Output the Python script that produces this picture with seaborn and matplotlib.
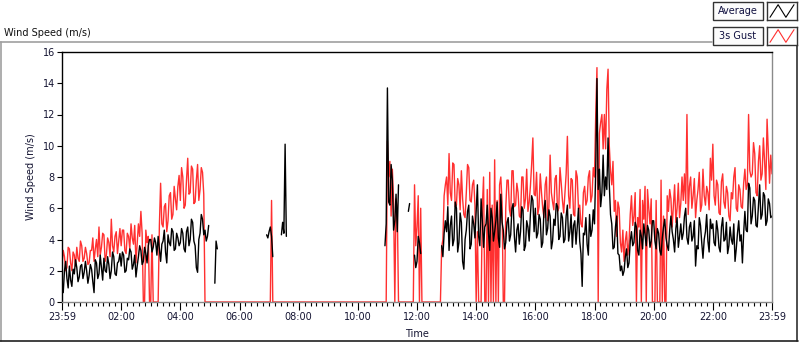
import numpy as np
import pandas as pd
import matplotlib
matplotlib.use("Agg")
import matplotlib.pyplot as plt
from matplotlib.lines import Line2D
from matplotlib.patches import Rectangle
import seaborn as sns

nan = np.nan

# 2.5-minute samples, one row per hour (23:59 -> 23:59)
average = (
    [1.2, 0.6, 2.0, 2.6, 1.5, 0.9, 2.3, 1.4, 1.0, 2.1, 1.8, 2.7, 2.2, 1.3, 1.6, 2.3, 2.4, 1.5, 1.9, 2.6, 2.0, 1.2, 1.7, 2.4]
    + [2.1, 1.3, 0.6, 2.7, 2.5, 1.5, 1.8, 3.0, 2.2, 1.4, 2.8, 2.0, 1.9, 2.9, 2.4, 1.5, 2.0, 3.2, 2.9, 1.8, 1.7, 2.5, 2.6, 3.1]
    + [2.3, 3.2, 3.0, 1.9, 2.0, 2.8, 2.7, 3.4, 3.2, 2.1, 2.4, 3.0, 1.6, 2.3, 2.9, 3.6, 3.3, 2.4, 2.6, 3.5, 3.1, 2.5, 3.6, 4.0]
    + [4.0, 3.2, 3.5, 4.1, 3.8, 3.0, 4.2, 3.4, 2.6, 3.7, 3.9, 4.6, 3.2, 2.5, 4.3, 3.8, 3.6, 4.7, 4.5, 3.3, 3.4, 4.4, 4.1, 3.6]
    + [3.8, 4.7, 4.4, 3.4, 3.2, 4.5, 4.8, 3.6, 4.0, 5.3, 5.1, 3.9, 3.6, 2.2, 1.9, 4.0, 4.4, 5.6, 5.3, 4.3, 4.6, 3.9, 4.2, 4.9]
    + [nan, nan, nan, nan, 1.2, 3.9, 3.4] + [nan] * 17
    + [nan] * 22 + [4.3, 4.1]
    + [4.5, 4.8, 4.2, 2.9, nan, nan, nan, nan, nan, nan, 4.3, 5.1, 4.4, 10.1, 4.2] + [nan] * 9
    + [nan] * 24
    + [nan] * 24
    + [nan] * 22 + [3.6, 5.0]
    + [13.7, 6.4, 6.2, 8.8, 7.8, 4.6, 5.2, 6.9, 4.5, 7.5] + [nan] * 7 + [5.8, 6.3, nan, nan, nan, 3.0, 2.2]
    + [2.6, 4.2, 3.8, 3.1] + [nan] * 16 + [3.6, 2.9, 4.4, 5.2]
    + [4.5, 6.1, 3.3, 4.9, 5.5, 3.6, 4.0, 6.4, 6.0, 3.2, 3.8, 5.7, 5.1, 2.6, 2.1, 4.0, 4.6, 5.8, 6.2, 3.4, 3.7, 5.5, 5.0, 4.1]
    + [5.8, 7.5, 4.2, 3.6, 6.6, 5.2, 3.5, 4.8, 5.0, 6.2, 4.4, 3.3, 6.0, 5.4, 3.9, 4.5, 5.2, 6.4, 4.1, 3.5, 6.9, 5.1, 4.6, 3.4]
    + [3.8, 5.1, 5.4, 3.9, 4.3, 6.0, 6.3, 4.2, 3.2, 4.6, 5.0, 3.7, 4.5, 6.1, 5.9, 3.3, 3.6, 5.2, 4.8, 3.9, 5.6, 6.8, 6.5, 4.5]
    + [6.0, 4.1, 4.4, 5.6, 5.3, 3.5, 3.8, 5.9, 6.5, 4.3, 4.7, 5.9, 5.5, 3.4, 3.9, 5.3, 4.9, 6.3, 6.1, 4.0, 4.2, 5.7, 5.4, 3.8]
    + [4.0, 5.5, 6.2, 3.9, 4.5, 5.6, 3.5, 4.9, 5.2, 3.7, 4.8, 6.0, 3.9, 3.1, 1.0, 4.4, 4.3, 5.4, 3.7, 3.0, 5.6, 4.2, 4.6, 5.9]
    + [5.0, 8.5, 14.3, 7.2, 8.5, 6.1, 7.0, 9.4, 6.8, 8.0, 7.2, 10.5, 7.5, 5.6, 5.0, 3.4, 3.5, 4.8, 5.5, 3.1, 3.0, 2.0, 2.3, 1.7]
    + [2.0, 2.9, 3.4, 2.2, 2.5, 3.9, 4.5, 3.6, 3.8, 5.1, 4.8, 3.3, 3.0, 4.6, 4.2, 3.4, 5.0, 4.3, 3.6, 4.9, 4.6, 3.5, 3.9, 5.2]
    + [5.2, 3.9, 3.4, 4.7, 4.4, 3.3, 3.0, 4.1, 4.8, 5.3, 4.1, 3.6, 3.3, 4.6, 5.5, 4.5, 4.0, 3.2, 4.7, 5.4, 3.5, 4.2, 5.0, 4.0]
    + [4.4, 5.5, 6.0, 4.1, 3.7, 4.8, 5.1, 3.9, 4.2, 5.2, 2.3, 3.6, 3.4, 5.4, 4.9, 3.8, 2.8, 4.0, 4.5, 5.6, 3.9, 3.2, 5.3, 4.7]
    + [5.0, 3.8, 3.6, 5.2, 4.6, 3.5, 3.2, 4.8, 5.4, 3.9, 4.0, 5.1, 3.1, 3.6, 4.8, 4.0, 3.7, 5.0, 2.6, 3.4, 4.4, 5.2, 3.9, 4.3]
    + [2.5, 4.4, 5.8, 4.6, 4.5, 7.6, 7.3, 5.0, 5.5, 6.7, 6.5, 4.9, 4.8, 6.2, 7.5, 5.3, 5.6, 7.0, 6.8, 4.9, 5.2, 6.6, 6.3, 5.4]
    + [5.5]
)

gust = (
    [2.4, 3.3, 2.9, 2.0, 2.2, 3.5, 3.4, 2.5, 2.0, 3.2, 3.0, 2.3, 3.5, 2.8, 2.6, 3.9, 3.6, 2.6, 2.8, 3.5, 3.1, 2.4, 2.5, 3.3]
    + [3.3, 4.1, 2.6, 3.4, 4.0, 2.9, 4.8, 3.0, 3.5, 4.4, 4.3, 2.6, 3.0, 4.1, 3.8, 2.9, 5.3, 3.6, 3.2, 4.2, 4.5, 3.1, 3.9, 4.7]
    + [3.6, 4.6, 4.6, 3.3, 3.1, 4.4, 4.2, 3.4, 5.0, 4.1, 3.7, 4.9, 2.5, 3.8, 5.0, 4.2, 5.8, 4.4, 0.0, 0.0, 4.6, 3.8, 4.2, 0.0]
    + [0.0, 4.3, 0.0, 0.0, 0.0, 0.0, 0.0, 4.9, 7.6, 5.0, 4.8, 6.1, 6.3, 4.5, 5.2, 6.8, 7.0, 5.3, 5.6, 7.4, 6.6, 5.9, 7.4, 8.1]
    + [6.5, 8.6, 8.0, 6.0, 6.2, 7.8, 9.2, 6.9, 7.0, 8.7, 8.5, 6.3, 6.4, 7.8, 8.8, 6.5, 7.2, 8.6, 8.3, 6.9, 0.0, 0.0, 0.0, 0.0]
    + [0.0] * 24
    + [0.0] * 24
    + [0.0, 0.0, 6.5, 0.0] + [0.0] * 20
    + [0.0] * 24
    + [0.0] * 24
    + [0.0] * 24
    + [10.3, 8.0, 9.0, 5.5, 8.5, 6.4, 0.0, 6.6, 6.0, 0.0] + [0.0] * 12 + [7.5, 3.6]
    + [4.8, 6.8, 0.0, 6.0, 0.0] + [0.0] * 15 + [3.5, 4.0, 6.8, 7.5]
    + [8.0, 6.2, 9.5, 7.0, 6.5, 8.9, 8.8, 6.1, 6.2, 7.9, 7.5, 5.9, 8.4, 6.6, 5.6, 5.4, 7.0, 8.8, 8.6, 6.5, 6.4, 7.5, 7.8, 6.2]
    + [0.0, 4.5, 0.0, 0.0, 0.0, 6.0, 8.0, 0.0, 0.0, 7.2, 0.0, 8.3, 0.0, 6.2, 0.0, 9.1, 0.0, 6.5, 0.0, 7.5, 8.0, 6.4, 0.0, 0.0]
    + [6.0, 7.8, 7.8, 5.9, 5.5, 8.4, 8.4, 6.1, 6.2, 7.6, 7.0, 5.5, 5.4, 8.0, 8.0, 6.0, 6.6, 8.5, 5.8, 6.4, 7.4, 8.8, 10.5, 6.9]
    + [6.8, 8.3, 5.6, 6.1, 8.2, 7.0, 6.0, 5.4, 7.5, 8.0, 5.2, 6.1, 9.4, 7.0, 6.4, 5.9, 7.9, 8.1, 5.8, 6.0, 8.6, 7.6, 6.5, 5.7]
    + [7.0, 8.2, 10.6, 6.8, 6.0, 7.9, 7.8, 5.6, 5.5, 8.4, 8.0, 6.0, 6.2, 5.0, 4.8, 7.0, 7.4, 6.2, 6.5, 8.0, 8.4, 6.4, 6.8, 8.6]
    + [8.0, 12.0, 15.0, 0.0, 10.8, 11.5, 12.0, 9.8, 12.0, 9.8, 13.6, 14.9, 10.0, 8.4, 7.5, 9.0, 5.8, 6.5, 4.2, 6.4, 6.0, 3.8, 3.2, 4.6]
    + [2.6, 3.9, 4.5, 3.0, 3.8, 5.6, 6.8, 4.9, 5.5, 7.0, 0.0, 5.4, 4.8, 7.2, 0.0, 6.5, 5.3, 7.4, 0.0, 7.2, 6.0, 5.0, 6.6, 0.0]
    + [0.0, 0.0, 6.5, 0.0, 0.0, 0.0, 7.8, 0.0, 5.5, 0.0, 0.0, 6.8, 5.8, 7.2, 6.6, 4.8, 6.2, 7.5, 5.1, 6.0, 7.6, 5.4, 6.3, 8.0]
    + [6.5, 8.2, 6.3, 12.0, 5.6, 7.4, 8.0, 6.0, 6.8, 7.9, 5.4, 6.5, 7.2, 8.3, 5.8, 6.2, 8.5, 6.8, 6.2, 7.4, 7.0, 5.9, 9.2, 7.8]
    + [10.1, 6.8, 6.2, 7.8, 7.5, 5.7, 5.6, 7.7, 8.2, 6.4, 6.0, 7.4, 7.0, 5.5, 5.2, 7.0, 6.6, 8.0, 8.6, 6.0, 5.8, 7.5, 7.2, 6.1]
    + [6.0, 7.6, 8.5, 7.2, 7.5, 12.0, 8.4, 8.0, 8.2, 10.2, 9.5, 7.0, 6.8, 9.0, 10.0, 7.8, 8.2, 10.5, 9.0, 7.2, 11.7, 9.6, 7.6, 9.4]
    + [8.2]
)

tick_hours = [0, 2, 4, 6, 8, 10, 12, 14, 16, 18, 20, 22, 24]
tick_labels = ["23:59", "02:00", "04:00", "06:00", "08:00", "10:00", "12:00",
               "14:00", "16:00", "18:00", "20:00", "22:00", "23:59"]

sns.set_style("white")
plt.rcParams['font.family'] = ['DejaVu Sans']

W, H = 800, 342
fig = plt.figure(figsize=(W / 100, H / 100), dpi=100)
fig.patch.set_facecolor('white')


def fx(x):
    return x / W


def fy(y):
    return 1 - y / H


df = pd.DataFrame({'t': np.arange(len(average)) * 2.5 / 60.0,
                   'avg': average, 'gust': gust})
df['seg'] = df['avg'].isna().cumsum()
avg_df = df.dropna(subset=['avg'])

ax = fig.add_axes([fx(62), fy(302), fx(772) - fx(62), fy(52) - fy(302)])
sns.lineplot(data=df, x='t', y='gust', color='#ff3030', lw=1.0,
             estimator=None, legend=False, ax=ax)
sns.lineplot(data=avg_df, x='t', y='avg', units='seg', estimator=None,
             color='black', lw=1.0, legend=False, ax=ax)

ax.set_xlim(0, 24)
ax.set_ylim(0, 16)
ax.set_xticks(tick_hours)
ax.set_xticklabels(tick_labels)
ax.set_xticks(np.arange(0, 24.01, 0.2), minor=True)
ax.set_yticks(range(0, 17, 2))
lab_col = '#141432'
ax.tick_params(axis='both', which='major', direction='out', length=3.6,
               width=0.8, color='black', labelsize=7, labelcolor=lab_col, pad=1.5)
ax.tick_params(axis='x', which='major', length=5.4)
ax.tick_params(axis='x', which='minor', direction='out', length=3,
               width=0.8, color='black')
ax.tick_params(bottom=True, left=True, which='both')
ax.tick_params(axis='y', which='minor', left=False)

for side in ['left', 'top']:
    ax.spines[side].set_color('black')
    ax.spines[side].set_linewidth(1.0)
for side in ['right', 'bottom']:
    ax.spines[side].set_color('#8a8a8a')
    ax.spines[side].set_linewidth(1.0)

ax.set_xlabel('Time', fontsize=7, color=lab_col)
ax.set_ylabel('Wind Speed (m/s)', fontsize=7, color=lab_col)
ax.xaxis.set_label_coords(0.5, -(329 - 302) / 250)
ax.yaxis.set_label_coords(-(62 - 36) / 710, 0.5)

# panel title
fig.text(fx(4), fy(33), 'Wind Speed (m/s)', fontsize=7, color='#111111',
         va='center', ha='left')

# panel frame
frame = [((0, 42), (712, 42), '#a0a0a0'),
         ((1, 42), (1, 341), '#a0a0a0'),
         ((797, 46), (797, 341), '#303030'),
         ((0, 340.5), (798, 340.5), '#202020')]
for (x0, y0), (x1, y1), c in frame:
    fig.add_artist(Line2D([fx(x0), fx(x1)], [fy(y0), fy(y1)],
                          transform=fig.transFigure, color=c, lw=1.2))

# legend
legend_rows = [('Average', 'black', 2), ('3s Gust', '#ff3030', 27)]
for name, col, top in legend_rows:
    fig.add_artist(Rectangle((fx(713), fy(top + 18)), fx(50), fy(top) - fy(top + 18),
                             transform=fig.transFigure, facecolor='#fcfcfc',
                             edgecolor='#333333', lw=1.0))
    fig.text(fx(738), fy(top + 9), name, fontsize=7, color='#101040',
             ha='center', va='center')
    sax = fig.add_axes([fx(767), fy(top + 18), fx(30), fy(top) - fy(top + 18)])
    sax.plot([0.1, 0.37, 0.63, 0.9], [0.15, 0.85, 0.15, 0.85], color=col, lw=0.8)
    sax.set_xlim(0, 1)
    sax.set_ylim(0, 1)
    sax.set_xticks([])
    sax.set_yticks([])
    for s in sax.spines.values():
        s.set_color('#333333')
        s.set_linewidth(1.0)

fig.savefig('out.png', dpi=100, facecolor='white')
